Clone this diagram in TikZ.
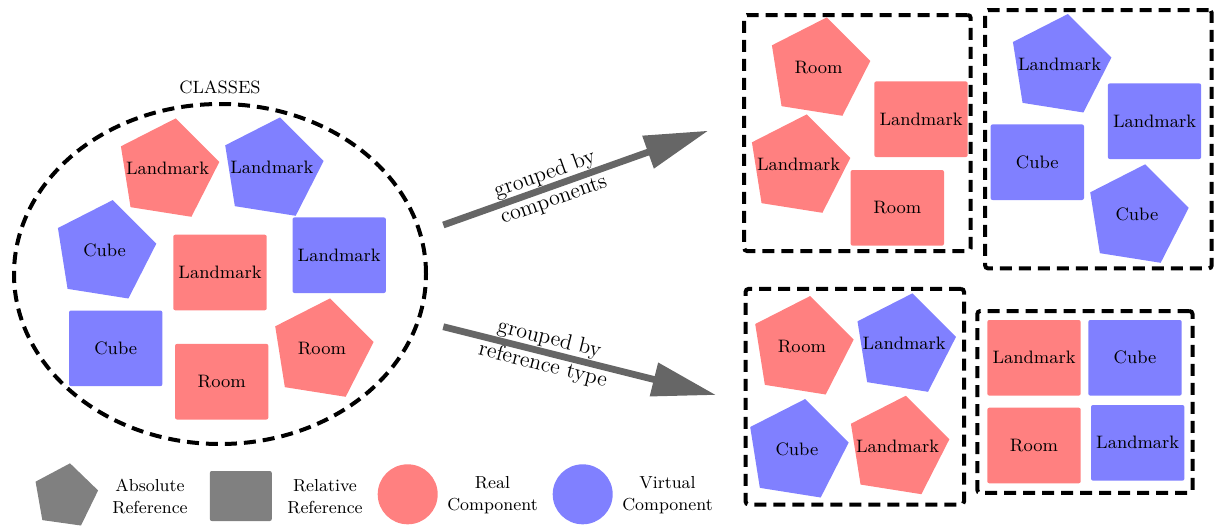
\documentclass[tikz,border=0pt]{standalone}
\usetikzlibrary{shapes.geometric,arrows.meta}
\definecolor{realred}{RGB}{255,128,128}
\definecolor{virtblue}{RGB}{128,128,255}
\definecolor{leggray}{RGB}{128,128,128}
\definecolor{arrowgray}{RGB}{102,102,102}
\tikzset{
  base/.style={inner sep=0pt, outer sep=0pt, font=\fontsize{9}{11}\selectfont},
  txt/.style={base},
  sq/.style={base, rectangle, rounded corners=1pt, minimum width=46.7pt, minimum height=37.8pt},
  rc/.style={fill=realred},
  vc/.style={fill=virtblue},
  grp/.style={draw=black, line width=2pt, dash pattern=on 6pt off 3.5pt, rounded corners=1.5pt, inner sep=0pt},
  bigarrow/.style={draw=arrowgray, line width=3.4pt, -{Triangle[length=32pt,width=16.5pt]}},
  arrlbl/.style={font=\fontsize{11}{13.5}\selectfont, align=center, sloped, inner sep=0pt},
  leg/.style={font=\fontsize{8.7}{10.8}\selectfont, align=center, inner sep=0pt}
}
% pentagon: #1 fill style, #2 centre "x,y", #3 circumradius (px units), #4 rotation (deg, clockwise)
\newcommand\mypentagon[4]{%
  \fill[#1, shift={(#2)}] (-90+#4:#3) -- (-162+#4:#3) -- (-234+#4:#3) -- (-306+#4:#3) -- (-18+#4:#3) -- cycle;}
\begin{document}
\begin{tikzpicture}[x=0.5pt,y=-0.5pt]
\useasboundingbox (0,0) rectangle (1216,527);

% classes ellipse
\node[ellipse, draw=black, line width=2pt, dash pattern=on 6pt off 3.5pt, minimum width=206pt, minimum height=170pt, inner sep=0pt] (cls) at (220,274) {};
\node[font=\fontsize{8.9}{11}\selectfont, inner sep=0pt] (clst) at (220,87.5) {CLASSES};

\mypentagon{realred}{167.6,170.1}{52.4}{9}
\node[txt] (c1) at (167.6,168.6) {Landmark};
\mypentagon{virtblue}{271.9,169.1}{52.4}{9}
\node[txt] (c2) at (271.9,167.6) {Landmark};
\mypentagon{virtblue}{104.6,251.8}{52.4}{9}
\node[txt] (c3) at (104.6,250.3) {Cube};
\mypentagon{realred}{321.9,350.1}{52.4}{9}
\node[txt] (c4) at (321.9,348.6) {Room};
\node[sq, rc] (c5) at (220,272.5) {Landmark};
\node[sq, vc] (c6) at (339.2,255.2) {Landmark};
\node[sq, vc] (c7) at (115.7,348.3) {Cube};
\node[sq, rc] (c8) at (221.7,381.7) {Room};

% group boxes
\node[grp, minimum width=113.3pt, minimum height=118pt] (g1) at (857.4,133) {};
\node[grp, minimum width=113.3pt, minimum height=129.2pt] (g2) at (1098.4,139.2) {};
\node[grp, minimum width=109.2pt, minimum height=107.8pt] (g3) at (854.8,396.7) {};
\node[grp, minimum width=107.6pt, minimum height=90.9pt] (g4) at (1084.9,401.9) {};

% group 1: real components
\mypentagon{realred}{818.6,69.1}{52.4}{9}
\node[txt] (r1) at (818.6,67.6) {Room};
\mypentagon{realred}{798.6,166.1}{52.4}{9}
\node[txt] (r2) at (798.6,164.6) {Landmark};
\node[sq, rc] (r3) at (921,119.2) {Landmark};
\node[sq, rc] (r4) at (897.3,207.8) {Room};

% group 2: virtual components
\mypentagon{virtblue}{1059.6,65.8}{52.4}{9}
\node[txt] (v1) at (1059.6,64.3) {Landmark};
\node[sq, vc] (v2) at (1154.5,121.2) {Landmark};
\node[sq, vc] (v3) at (1037.3,162.2) {Cube};
\mypentagon{virtblue}{1136.9,216.1}{52.4}{9}
\node[txt] (v4) at (1136.9,214.6) {Cube};

% group 3: absolute references
\mypentagon{realred}{801.9,347.8}{52.4}{9}
\node[txt] (a1) at (801.9,346.3) {Room};
\mypentagon{virtblue}{904.2,345.1}{52.4}{9}
\node[txt] (a2) at (904.2,343.6) {Landmark};
\mypentagon{virtblue}{796.9,450.8}{52.4}{9}
\node[txt] (a3) at (796.9,449.3) {Cube};
\mypentagon{realred}{897.6,447.5}{52.4}{9}
\node[txt] (a4) at (897.6,446) {Landmark};

% group 4: relative references
\node[sq, rc] (s1) at (1034,357.8) {Landmark};
\node[sq, vc] (s2) at (1135,357.8) {Cube};
\node[sq, rc] (s3) at (1034,445.5) {Room};
\node[sq, vc] (s4) at (1137.7,442.8) {Landmark};

% arrows
\coordinate (ar1s) at (443.3,225);
\coordinate (ar1e) at (708.3,130.7);
\coordinate (ar2s) at (443.3,326.7);
\coordinate (ar2e) at (716,395);
\draw[bigarrow] (ar1s) -- node[arrlbl, pos=0.4] (l1) {grouped by\\components} (ar1e);
\draw[bigarrow] (ar2s) -- node[arrlbl, pos=0.377] (l2) {grouped by\\reference type} (ar2e);

% legend
\mypentagon{leggray}{65.4,496.2}{33.2}{8}
\node[leg] (lt1) at (150,496.5) {Absolute\\Reference};
\node[base, rectangle, rounded corners=1pt, minimum width=31pt, minimum height=25pt, fill=leggray] (lg2) at (240.8,496) {};
\node[leg] (lt2) at (325,496.5) {Relative\\Reference};
\node[base, circle, minimum size=30pt, fill=realred] (lg3) at (407.7,494.3) {};
\node[leg] (lt3) at (492.5,495) {Real\\Component};
\node[base, circle, minimum size=30pt, fill=virtblue] (lg4) at (582.7,494.3) {};
\node[leg] (lt4) at (667.5,495) {Virtual\\Component};
\end{tikzpicture}
\end{document}
